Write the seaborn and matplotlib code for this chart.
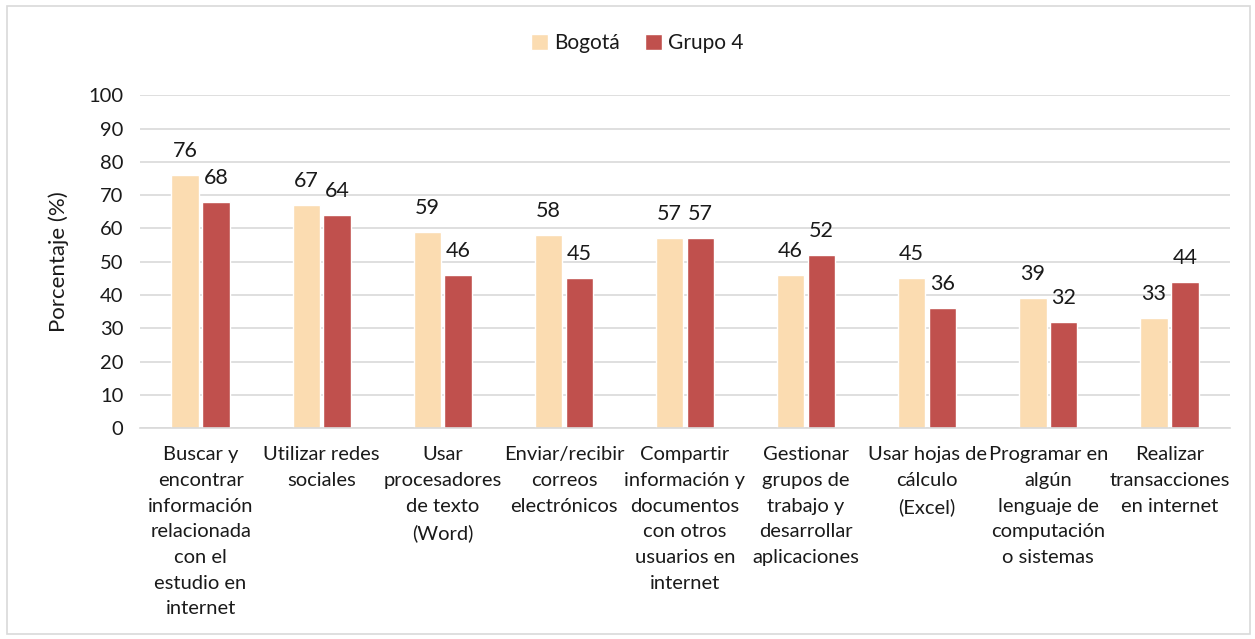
import matplotlib
import matplotlib.pyplot as plt
import pandas as pd
import seaborn as sns
from matplotlib.patches import Rectangle

matplotlib.use("Agg")

categories = [
    "Buscar y\nencontrar\ninformación\nrelacionada\ncon el\nestudio en\ninternet",
    "Utilizar redes\nsociales",
    "Usar\nprocesadores\nde texto\n(Word)",
    "Enviar/recibir\ncorreos\nelectrónicos",
    "Compartir\ninformación y\ndocumentos\ncon otros\nusuarios en\ninternet",
    "Gestionar\ngrupos de\ntrabajo y\ndesarrollar\naplicaciones",
    "Usar hojas de\ncálculo\n(Excel)",
    "Programar en\nalgún\nlenguaje de\ncomputación\no sistemas",
    "Realizar\ntransacciones\nen internet",
]
bogota = [76, 67, 59, 58, 57, 46, 45, 39, 33]
grupo4 = [68, 64, 46, 45, 57, 52, 36, 32, 44]
series_names = ["Bogotá", "Grupo 4"]
colors = ["#FBDCB1", "#C0504D"]

df = pd.DataFrame({
    "Categoría": categories * 2,
    "Serie": [series_names[0]] * len(categories) + [series_names[1]] * len(categories),
    "Valor": bogota + grupo4,
})

sns.set_style("white")
plt.rcParams["font.family"] = ["Lato", "DejaVu Sans"]
text_color = "#1a1a1a"
fs = 14.5

fig = plt.figure(figsize=(12.55, 6.39), dpi=100)
ax = fig.add_axes([0.1116, 0.330, 0.8684, 0.521])

sns.barplot(
    data=df, x="Categoría", y="Valor", hue="Serie",
    palette=colors, saturation=1, width=0.51, gap=0.11, ax=ax, legend=True,
)

# value labels above each bar
for cont in ax.containers:
    ax.bar_label(cont, fmt="%d", padding=10, fontsize=fs + 1, color=text_color)

ax.set_ylim(0, 100)
ax.set_yticks(range(0, 101, 10))
ax.set_xlim(-0.5, len(categories) - 0.5)
ax.yaxis.grid(True, color="#d9d9d9", linewidth=1.2)
ax.set_axisbelow(True)
for side in ["top", "right", "left"]:
    ax.spines[side].set_visible(False)
ax.spines["bottom"].set_color("#d9d9d9")
ax.spines["bottom"].set_linewidth(1.2)
ax.tick_params(axis="both", length=0, labelsize=fs, colors=text_color)
ax.tick_params(axis="y", pad=12)
ax.tick_params(axis="x", pad=13)
for lbl in ax.get_xticklabels():
    lbl.set_linespacing(1.62)
ax.set_xlabel("")
ax.set_ylabel("Porcentaje (%)", fontsize=fs + 1.5, color=text_color, labelpad=14)

handles, labels = ax.get_legend_handles_labels()
ax.legend_.remove()
fig.legend(
    handles, labels, loc="center", bbox_to_anchor=(0.508, 0.933), ncol=2,
    frameon=False, fontsize=fs + 0.5, handlelength=0.8, handleheight=0.8,
    handletextpad=0.3, columnspacing=1.2, labelcolor=text_color,
)

fig.patches.append(Rectangle((0.0056, 0.008), 0.9904, 0.983, transform=fig.transFigure,
                             fill=False, edgecolor="#d9d9d9", linewidth=1.2))

plt.savefig("out.png", dpi=100)
